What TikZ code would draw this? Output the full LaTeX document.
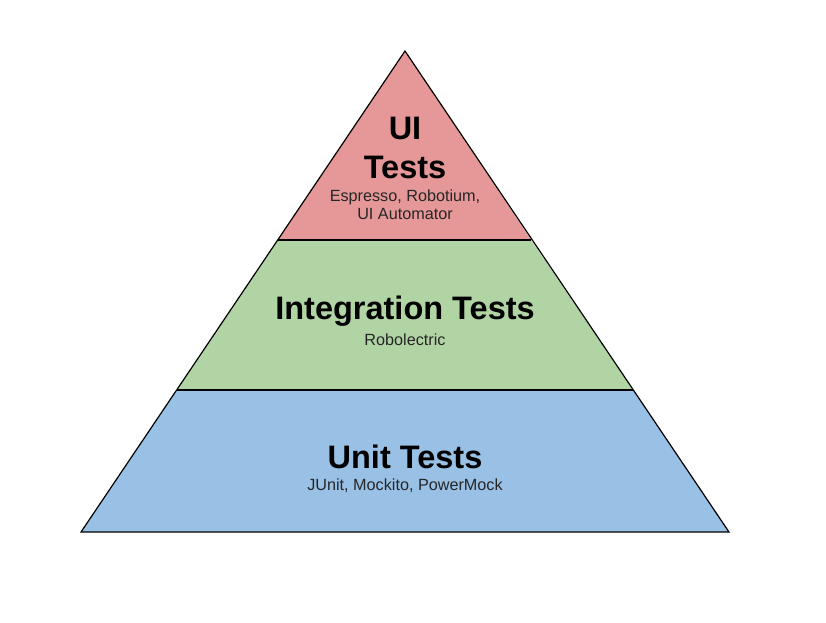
\documentclass[tikz,border=0pt]{standalone}
\usepackage{fontspec}
\setmainfont{Liberation Sans}
\definecolor{uired}{HTML}{E69798}
\definecolor{intgreen}{HTML}{B1D4A5}
\definecolor{unitblue}{HTML}{99C0E5}
\begin{document}
\begin{tikzpicture}[x=1pt,y=-1pt,
  layer/.style={draw=black,line width=1.2pt,line join=miter},
  title/.style={font=\fontsize{32.5}{34}\selectfont\bfseries,inner sep=0pt,anchor=center},
  sub/.style={font=\fontsize{16.2}{18}\selectfont,inner sep=0pt,anchor=center,align=center,text=black!85}]
\useasboundingbox[fill=white] (0,0) rectangle (826,622);
\coordinate (apex) at (405,51);
\coordinate (bl) at (81,532);
\coordinate (br) at (729,532);
\coordinate (ml) at (177,390);
\coordinate (mr) at (633,390);
\coordinate (tl) at (278,240);
\coordinate (tr) at (531,240);
\fill[unitblue] (ml) -- (mr) -- (br) -- (bl) -- cycle;
\fill[intgreen] (tl) -- (tr) -- (mr) -- (ml) -- cycle;
\fill[uired] (apex) -- (tr) -- (tl) -- cycle;
\draw[layer] (apex) -- (br) -- (bl) -- cycle;
\draw[layer] (tl) -- (tr);
\draw[layer] (ml) -- (mr);
\node[title] (ui) at (405,128) {UI};
\node[title] (uitests) at (405,167) {Tests};
\node[sub] (uisub) at (405,205) {Espresso, Robotium,\\UI Automator};
\node[title] (integ) at (405,311) {Integration Tests};
\node[sub] (integsub) at (405,340) {Robolectric};
\node[title] (unit) at (405,457) {Unit Tests};
\node[sub] (unitsub) at (405,486) {JUnit, Mockito, PowerMock};
\end{tikzpicture}
\end{document}
